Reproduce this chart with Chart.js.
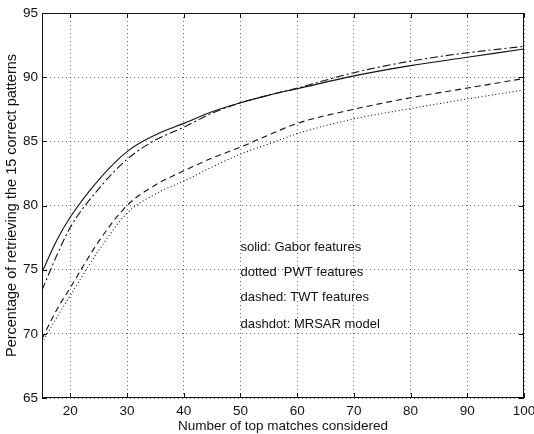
<!DOCTYPE html>
<html>
<head>
<meta charset="utf-8">
<script src="https://cdn.jsdelivr.net/npm/chart.js@4.4.1/dist/chart.umd.min.js"></script>
<style>
  html, body { margin:0; padding:0; background:#fff; }
  #wrap { width:534px; height:434px; }
</style>
</head>
<body>
<div id="wrap"><canvas id="curvas" width="534" height="434"></canvas></div>
<script>
    // datos
    const numMatches = [15, 17.5, 20, 25, 30, 35, 40, 45, 50, 55, 60, 70, 80, 90, 100];
    const gabor = [74.8, 77.2, 79.1, 82.0, 84.2, 85.5, 86.4, 87.3, 88.0, 88.6, 89.1, 90.1, 90.9, 91.55, 92.2];
    const pwt   = [69.3, 71.2, 73.0, 76.5, 79.4, 80.9, 81.9, 83.0, 84.0, 84.8, 85.6, 86.75, 87.55, 88.3, 89.0];
    const twt   = [69.6, 71.8, 73.6, 77.2, 80.0, 81.6, 82.7, 83.7, 84.55, 85.5, 86.4, 87.5, 88.4, 89.15, 89.9];
    const mrsar = [73.4, 76.0, 78.3, 81.3, 83.6, 85.1, 86.1, 87.2, 88.0, 88.6, 89.15, 90.35, 91.25, 91.9, 92.4];

    const xTicks = [20, 30, 40, 50, 60, 70, 80, 90, 100];
    const yTicks = [65, 70, 75, 80, 85, 90, 95];

    const notas = ["solid: Gabor features", "dotted  PWT features", "dashed: TWT features", "dashdot: MRSAR model"];
    const notasY = [76.7, 74.8, 72.8, 70.7];
    const notasX = 50;

    const fuente = "'Liberation Sans', Arial, sans-serif";
    const tinta = "#111";

    const puntos = arr => arr.map((v, i) => ({ x: numMatches[i], y: v }));

    function serie(arr, dash) {
      return { data: puntos(arr), borderColor: tinta, borderWidth: 1.1, borderDash: dash,
               pointRadius: 0, fill: false, tension: 0.35, cubicInterpolationMode: "monotone" };
    }

    // marco, marcas hacia dentro y textos
    const marcoPlugin = {
      id: "marco",
      afterDraw(chart) {
        const c = chart.ctx, a = chart.chartArea;
        const sx = chart.scales.x, sy = chart.scales.y;
        c.save();
        c.setLineDash([]);
        c.strokeStyle = tinta;
        c.lineWidth = 1;
        c.strokeRect(a.left + 0.5, a.top + 0.5, a.right - a.left - 1, a.bottom - a.top - 1);
        c.beginPath();
        xTicks.forEach(v => {
          const px = Math.round(sx.getPixelForValue(v)) + 0.5;
          c.moveTo(px, a.bottom); c.lineTo(px, a.bottom - 5);
          c.moveTo(px, a.top); c.lineTo(px, a.top + 5);
        });
        yTicks.forEach(v => {
          const py = Math.round(sy.getPixelForValue(v)) + 0.5;
          c.moveTo(a.left, py); c.lineTo(a.left + 5, py);
          c.moveTo(a.right, py); c.lineTo(a.right - 5, py);
        });
        c.stroke();

        c.fillStyle = tinta;
        c.font = "13px " + fuente;
        c.textBaseline = "middle";
        c.textAlign = "left";
        notas.forEach((t, i) => {
          c.fillText(t, sx.getPixelForValue(notasX), sy.getPixelForValue(notasY[i]));
        });
        c.restore();
      }
    };

    const ctx = document.getElementById("curvas").getContext("2d");

    const grafica = new Chart(ctx, {
      type: "line",
      data: { datasets: [ serie(gabor, []), serie(pwt, [1, 2.5]), serie(twt, [6, 4]), serie(mrsar, [8, 3, 2, 3]) ] },
      options: {
        responsive: false,
        animation: false,
        layout: { padding: { top: 13, right: 10, bottom: 0, left: 0 } },
        plugins: { legend: { display: false }, tooltip: { enabled: false } },
        scales: {
          x: {
            type: "linear", min: 15, max: 100,
            afterBuildTicks: s => { s.ticks = xTicks.map(v => ({ value: v })); },
            afterFit: s => { s.height = 36; s.paddingRight = 0; },
            grid: { color: "#444", lineWidth: 0.8, drawTicks: false },
            border: { display: false, dash: [1, 3] },
            ticks: { color: tinta, font: { family: fuente, size: 13.5 }, padding: 5, maxRotation: 0 },
            title: { display: true, text: "Number of top matches considered", color: tinta,
                     font: { family: fuente, size: 13.5 }, padding: { top: 0, bottom: 0 } }
          },
          y: {
            type: "linear", min: 65, max: 95,
            afterBuildTicks: s => { s.ticks = yTicks.map(v => ({ value: v })); },
            afterFit: s => { s.width = 42; },
            grid: { color: "#444", lineWidth: 0.8, drawTicks: false },
            border: { display: false, dash: [1, 3] },
            ticks: { color: tinta, font: { family: fuente, size: 13.5 }, padding: 4 },
            title: { display: true, text: "Percentage of retrieving the 15 correct patterns", color: tinta,
                     font: { family: fuente, size: 14.5 }, padding: { top: 3, bottom: 0 } }
          }
        }
      },
      plugins: [marcoPlugin]
    });
</script>
</body>
</html>
